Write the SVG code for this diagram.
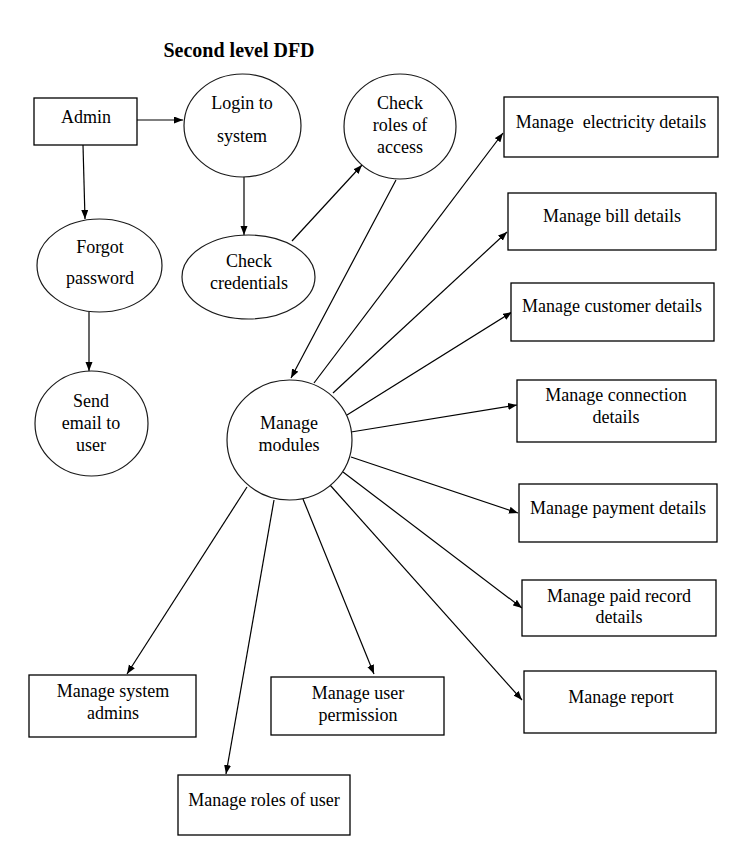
<svg xmlns="http://www.w3.org/2000/svg" width="738" height="857" viewBox="0 0 738 857">
<style>
.bg{fill:#ffffff}
.box{fill:#ffffff;stroke:#000000;stroke-width:1.3}
.oval{fill:#ffffff;stroke:#1a1a1a;stroke-width:1.2}
.lbl{font-family:"Liberation Serif","Times New Roman",serif;font-size:18px;fill:#000000;text-anchor:middle}
.title{font-family:"Liberation Serif","Times New Roman",serif;font-size:20px;font-weight:bold;fill:#000000;text-anchor:middle}
.edge{fill:none;stroke:#000000;stroke-width:1.2;marker-end:url(#arrow)}
</style>
<defs>
<marker id="arrow" markerUnits="userSpaceOnUse" markerWidth="10" markerHeight="8" refX="9" refY="3.5" orient="auto">
<path d="M0,0 L9,3.5 L0,7 z" fill="#000000"/>
</marker>
</defs>
<rect class="bg" x="0" y="0" width="738" height="857"/>
<text class="title" x="239" y="57">Second level DFD</text>

<g id="connectors">
<line class="edge" x1="137" y1="120" x2="183" y2="120"/>
<line class="edge" x1="83" y1="145" x2="85" y2="219"/>
<line class="edge" x1="244" y1="177" x2="244" y2="235"/>
<line class="edge" x1="292" y1="241" x2="362" y2="165"/>
<line class="edge" x1="89" y1="312" x2="89" y2="371"/>
<line class="edge" x1="396" y1="180" x2="291" y2="378"/>
<line class="edge" x1="314" y1="383" x2="503" y2="133"/>
<line class="edge" x1="333" y1="393" x2="507" y2="232"/>
<line class="edge" x1="347" y1="415" x2="512" y2="312"/>
<line class="edge" x1="351" y1="432" x2="517" y2="405"/>
<line class="edge" x1="351" y1="457" x2="518" y2="513"/>
<line class="edge" x1="343" y1="472" x2="522" y2="608"/>
<line class="edge" x1="330" y1="485" x2="522" y2="700"/>
<line class="edge" x1="247" y1="487" x2="127" y2="674"/>
<line class="edge" x1="274" y1="500" x2="226" y2="774"/>
<line class="edge" x1="303" y1="499" x2="374" y2="674"/>
</g>

<g id="admin">
<rect class="box" x="34" y="98" width="103" height="47"/>
<text class="lbl" x="86" y="123">Admin</text>
</g>
<g id="login">
<ellipse class="oval" cx="242.5" cy="125.5" rx="58.5" ry="51.5"/>
<text class="lbl" x="242" y="109">Login to</text>
<text class="lbl" x="242" y="142">system</text>
</g>
<g id="check-roles">
<ellipse class="oval" cx="400" cy="126.5" rx="56" ry="52.5"/>
<text class="lbl" x="400" y="109">Check</text>
<text class="lbl" x="400" y="131">roles of</text>
<text class="lbl" x="400" y="153">access</text>
</g>
<g id="forgot">
<ellipse class="oval" cx="99.5" cy="265.5" rx="62.5" ry="46.5"/>
<text class="lbl" x="100" y="253">Forgot</text>
<text class="lbl" x="100" y="284">password</text>
</g>
<g id="check-credentials">
<ellipse class="oval" cx="248.5" cy="277" rx="66.5" ry="42"/>
<text class="lbl" x="249" y="267">Check</text>
<text class="lbl" x="249" y="289">credentials</text>
</g>
<g id="send-email">
<ellipse class="oval" cx="91.5" cy="423.5" rx="56.5" ry="52.5"/>
<text class="lbl" x="91" y="407">Send</text>
<text class="lbl" x="91" y="429">email to</text>
<text class="lbl" x="91" y="451">user</text>
</g>
<g id="manage-modules">
<ellipse class="oval" cx="289.5" cy="440" rx="62.5" ry="60"/>
<text class="lbl" x="289" y="429">Manage</text>
<text class="lbl" x="289" y="451">modules</text>
</g>

<g id="electricity">
<rect class="box" x="504" y="97" width="214" height="60"/>
<text class="lbl" x="611" y="128" xml:space="preserve">Manage  electricity details</text>
</g>
<g id="bill">
<rect class="box" x="508" y="193" width="208" height="57"/>
<text class="lbl" x="612" y="222">Manage bill details</text>
</g>
<g id="customer">
<rect class="box" x="511" y="283" width="203" height="58"/>
<text class="lbl" x="612" y="312">Manage customer details</text>
</g>
<g id="connection">
<rect class="box" x="517" y="380" width="199" height="62"/>
<text class="lbl" x="616" y="401">Manage connection</text>
<text class="lbl" x="616" y="423">details</text>
</g>
<g id="payment">
<rect class="box" x="519" y="484" width="198" height="58"/>
<text class="lbl" x="618" y="514">Manage payment details</text>
</g>
<g id="paid-record">
<rect class="box" x="522" y="580" width="194" height="56"/>
<text class="lbl" x="619" y="602">Manage paid record</text>
<text class="lbl" x="619" y="623">details</text>
</g>
<g id="report">
<rect class="box" x="524" y="671" width="192" height="62"/>
<text class="lbl" x="621" y="703">Manage report</text>
</g>
<g id="system-admins">
<rect class="box" x="29" y="675" width="167" height="62"/>
<text class="lbl" x="113" y="697">Manage system</text>
<text class="lbl" x="113" y="719">admins</text>
</g>
<g id="user-permission">
<rect class="box" x="271" y="677" width="173" height="58"/>
<text class="lbl" x="358" y="699">Manage user</text>
<text class="lbl" x="358" y="721">permission</text>
</g>
<g id="roles-of-user">
<rect class="box" x="178" y="775" width="172" height="60"/>
<text class="lbl" x="264" y="806">Manage roles of user</text>
</g>
</svg>
